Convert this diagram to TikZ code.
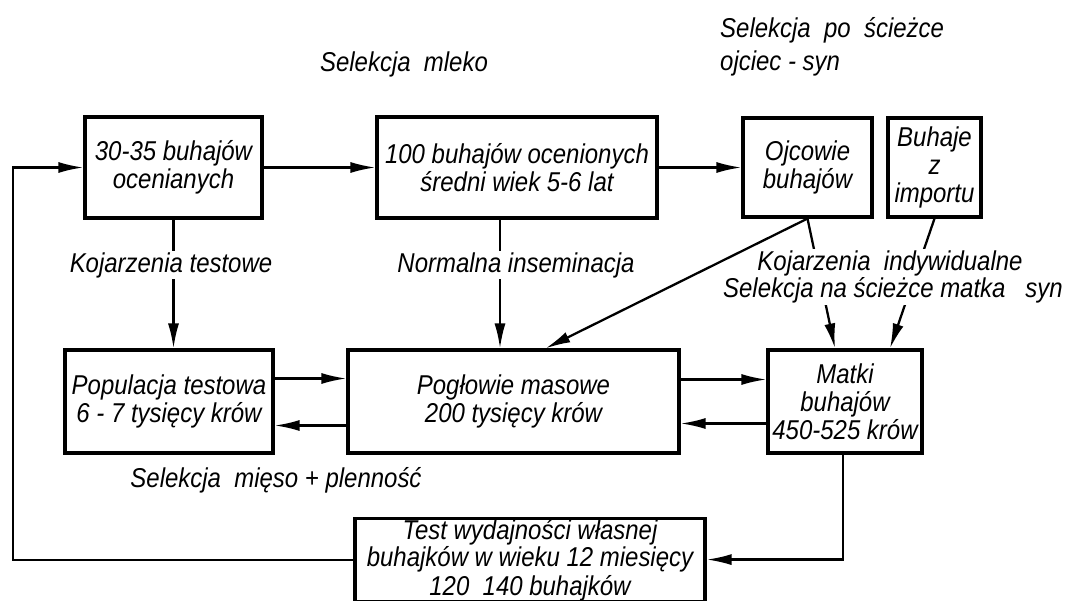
\documentclass[tikz,border=0pt]{standalone}
\usepackage{fontspec}
\setmainfont{Liberation Sans}[FakeStretch=0.88]
\usetikzlibrary{arrows.meta,calc}

\begin{document}
\begin{tikzpicture}[x=0.02cm,y=-0.02cm,
  txt/.style={font=\fontsize{15.5}{15.9}\selectfont\itshape},
  box/.style={draw,line width=1.8pt,txt,align=center,inner sep=2pt},
  lbl/.style={txt,fill=white,inner xsep=3pt,inner ysep=1pt},
  arr/.style={line width=1.3pt,-{Latex[length=0.5cm,width=0.22cm]}}]
\useasboundingbox (0,0) rectangle (1079,601);
\clip (0,0) rectangle (1079,601);
\node[box,minimum width=3.54cm,minimum height=2.02cm] (ocen) at (173.5,167.5) {30-35 buhajów\\ocenianych};
\node[box,minimum width=5.6cm,minimum height=2.02cm] (sto) at (517,167.5) {100 buhajów ocenionych\\średni wiek 5-6 lat};
\node[box,minimum width=2.58cm,minimum height=1.98cm] (ojc) at (807.5,167.5) {Ojcowie\\buhajów};
\node[box,minimum width=1.86cm,minimum height=1.98cm] (imp) at (934.5,167.5) {Buhaje\\z\\importu};
\node[box,minimum width=4.16cm,minimum height=2.06cm] (pop) at (169,401.5) {Populacja testowa\\6 - 7 tysięcy krów};
\node[box,minimum width=6.62cm,minimum height=2.06cm] (mas) at (513.5,401.5) {Pogłowie masowe\\200 tysięcy krów};
\node[box,minimum width=3.08cm,minimum height=2.06cm] (mat) at (845,401.5) {Matki\\buhajów\\450-525 krów};
\node[box,anchor=north,minimum width=7cm,inner ysep=0.5pt] (test) at (530,517)
  {Test wydajności własnej\\[-0.5pt]buhajków w wieku 12 miesięcy\\[0.3pt]120~~140 buhajków};
\coordinate (ret) at (13,560);
\draw[arr] (test.west |- ret) -- (ret) |- (ocen.west);
\draw[arr] (ocen.east) -- (sto.west);
\draw[arr] (sto.east) -- (ojc.west);
\draw[arr] (ocen.south) -- (ocen.south |- pop.north);
\coordinate (norm) at ($(sto.south)+(-17,0)$);
\draw[arr] (norm) -- (norm |- mas.north);
\draw[arr] (ojc.south) -- ($(mas.north)+(32,0)$);
\draw[arr] (ojc.south) -- ($(mat.north)+(-10,0)$);
\draw[arr] (imp.south) -- ($(mat.north)+(45,0)$);
\coordinate (pm) at ($(pop.east)+(0,-23)$);
\coordinate (mp) at ($(mas.west)+(0,24)$);
\draw[arr] (pm) -- (pm -| mas.west);
\draw[arr] (mp) -- (mp -| pop.east);
\coordinate (mm) at ($(mas.east)+(0,-22)$);
\coordinate (am) at ($(mat.west)+(0,22)$);
\draw[arr] (mm) -- (mm -| mat.west);
\draw[arr] (am) -- (am -| mas.east);
\coordinate (mt) at ($(mat.south)+(-2,105)$);
\draw[arr] ($(mat.south)+(-2,0)$) -- (mt) -- (mt -| test.east);
\node[txt] (mleko) at (404,64) {Selekcja\ \ mleko};
\node[txt,anchor=west,align=left] (ojsyn) at (714,47) {Selekcja\ \ po\ \ ścieżce\\[3pt]ojciec - syn};
\node[lbl] (kojt) at (171,265) {Kojarzenia testowe};
\node[lbl] (insem) at (516,265) {Normalna inseminacja};
\node[lbl] (matsyn) at (893,290) {Selekcja na ścieżce matka\ \ \ syn};
\node[lbl] (koji) at (890,263) {Kojarzenia\ \ indywidualne};
\node[txt] (mieso) at (276,480) {Selekcja\ \ mięso + plenność};
\end{tikzpicture}
\end{document}
